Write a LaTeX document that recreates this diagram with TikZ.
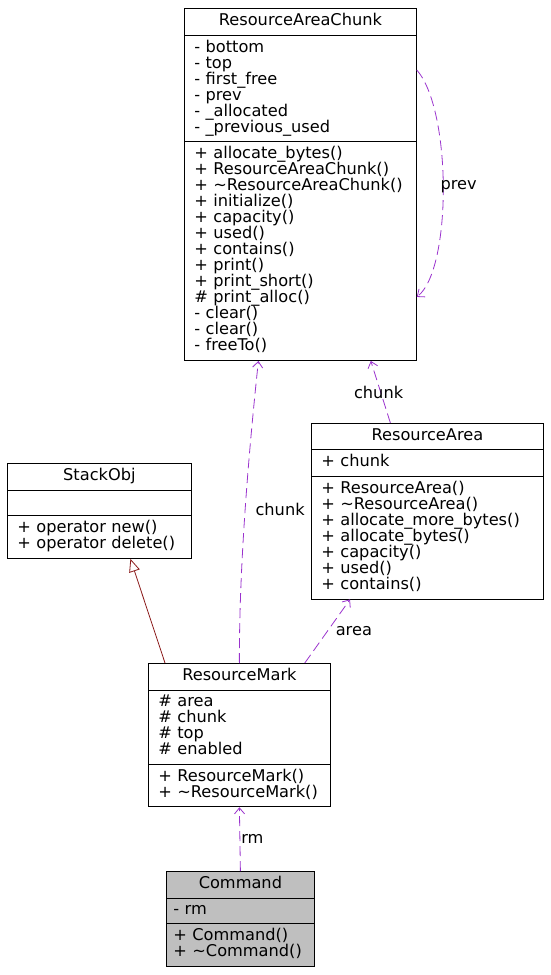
\documentclass[tikz,border=0pt]{standalone}
\usepackage{fontspec}
\usetikzlibrary{shapes.multipart,arrows.meta}
\newfontfamily\dotfont{DejaVu Sans}
\newcommand{\classfont}{\dotfont\fontsize{16.2}{16}\selectfont\lineskiplimit=-20pt}
\definecolor{depcol}{HTML}{9A32CD}
\definecolor{inhcol}{HTML}{8B1A1A}
\definecolor{cmdgray}{HTML}{BFBFBF}
\tikzset{
  cls/.style={draw, line width=0.8pt, fill=white, rectangle split, rectangle split parts=3,
    anchor=north west, inner xsep=10pt, inner ysep=4.4pt, align=left, font=\classfont},
  dep/.style={draw=depcol, line width=0.8pt, dash pattern=on 10pt off 5pt,
    -{Straight Barb[length=6pt,width=10pt]}},
  inh/.style={draw=inhcol, line width=0.8pt, -{Triangle[open,length=13pt,width=11pt,fill=white]}},
  lbl/.style={font=\classfont, inner sep=1pt, text=black}
}

\begin{document}
\begin{tikzpicture}[x=1pt,y=-1pt]
  \useasboundingbox (0,0) rectangle (551,975);
  % classes
  \node[cls, text width=212pt] (chunk) at (184,8) {\strut\hfill ResourceAreaChunk\hfill\strut
    \nodepart{two}\strut - bottom\\- top\\- first\_free\\- prev\\- \_allocated\\- \_previous\_used\strut
    \nodepart{three}\strut + allocate\_bytes()\\+ ResourceAreaChunk()\\+ \textasciitilde ResourceAreaChunk()\\+ initialize()\\+ capacity()\\+ used()\\+ contains()\\+ print()\\+ print\_short()\\\# print\_alloc()\\- clear()\\- clear()\\- freeTo()\strut};
  \node[cls, text width=164pt] (stack) at (7,463) {\strut\hfill StackObj\hfill\strut
    \nodepart{two}\strut
    \nodepart{three}\strut + operator new()\\+ operator delete()\strut};
  \node[cls, text width=212pt] (area) at (311,423) {\strut\hfill ResourceArea\hfill\strut
    \nodepart{two}\strut + chunk\strut
    \nodepart{three}\strut + ResourceArea()\\+ \textasciitilde ResourceArea()\\+ allocate\_more\_bytes()\\+ allocate\_bytes()\\+ capacity()\\+ used()\\+ contains()\strut};
  \node[cls, text width=162pt] (mark) at (148,663) {\strut\hfill ResourceMark\hfill\strut
    \nodepart{two}\strut \# area\\\# chunk\\\# top\\\# enabled\strut
    \nodepart{three}\strut + ResourceMark()\\+ \textasciitilde ResourceMark()\strut};
  \node[cls, text width=134pt, inner xsep=7pt, fill=cmdgray] (cmd) at (166,871) {\strut\hfill Command\hfill\strut
    \nodepart{two}\strut - rm\strut
    \nodepart{three}\strut + Command()\\+ \textasciitilde Command()\strut};
  % relations
  \draw[inh] ([xshift=17pt]mark.north west) -- ([xshift=31pt]stack.south);
  \draw[dep] (mark.north) .. controls (239,560) and (250,440) .. ([xshift=-42pt]chunk.south)
    node[lbl, pos=0.48, right=9pt] {chunk};
  \draw[dep] ([xshift=-26pt]mark.north east) -- ([xshift=39pt]area.south west)
    node[lbl, midway, right=7pt] {area};
  \draw[dep] ([xshift=-37pt]area.north) -- ([xshift=-46pt]chunk.south east)
    node[lbl, midway, xshift=-2pt] {chunk};
  \draw[dep] ([yshift=-62pt]chunk.north east) .. controls (452,110) and (452,270) .. ([yshift=64pt]chunk.south east)
    node[lbl, pos=0.5, right=-4pt, yshift=2pt] {prev};
  \draw[dep] (cmd.north) -- (mark.south) node[lbl, midway, right=0pt] {rm};
\end{tikzpicture}
\end{document}
